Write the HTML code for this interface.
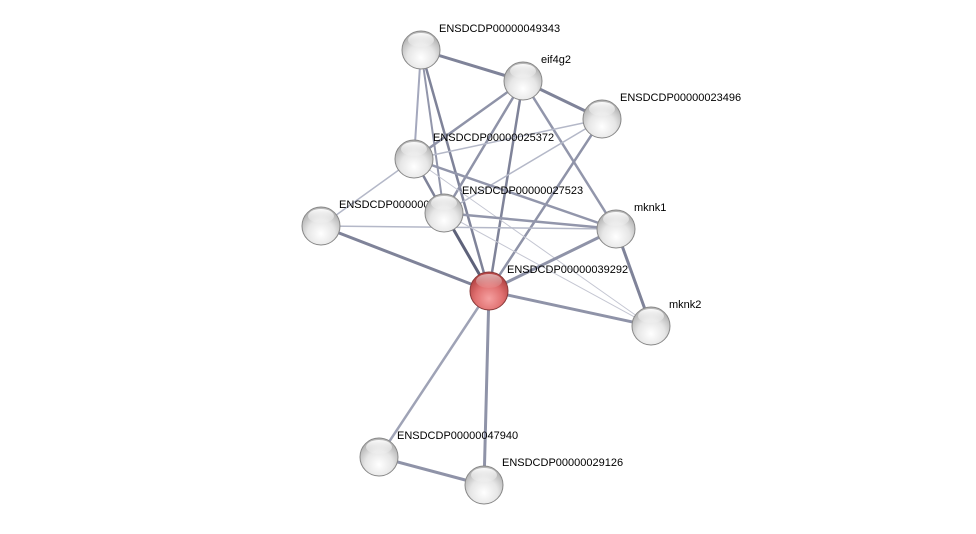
<!DOCTYPE html>
<html><head><meta charset="utf-8"><style>
body{margin:0;background:#fff;}
svg text{font-family:"Liberation Sans",sans-serif;font-size:11px;fill:#000;}
</style></head><body>
<svg width="976" height="529" viewBox="0 0 976 529">
<defs>
<radialGradient id="g" cx="50%" cy="70%" r="60%">
<stop offset="0" stop-color="#ffffff"/><stop offset="0.6" stop-color="#e6e6e6"/><stop offset="1" stop-color="#b8b8b8"/></radialGradient>
<radialGradient id="r" cx="50%" cy="70%" r="60%">
<stop offset="0" stop-color="#f5a0a0"/><stop offset="0.6" stop-color="#e07070"/><stop offset="1" stop-color="#b84848"/></radialGradient>
<linearGradient id="hl" x1="0" y1="0" x2="0" y2="1"><stop offset="0" stop-color="#fff" stop-opacity="0.95"/><stop offset="1" stop-color="#fff" stop-opacity="0.1"/></linearGradient>
</defs>
<g stroke-linecap="round">
<line x1="421" y1="50" x2="523" y2="81" stroke="#7f8399" stroke-width="3"/>
<line x1="421" y1="50" x2="414" y2="159" stroke="#a4a8bd" stroke-width="2"/>
<line x1="421" y1="50" x2="444" y2="213" stroke="#9296ab" stroke-width="2"/>
<line x1="421" y1="50" x2="489" y2="291" stroke="#7f8399" stroke-width="2.5"/>
<line x1="523" y1="81" x2="602" y2="119" stroke="#7f8399" stroke-width="3"/>
<line x1="523" y1="81" x2="414" y2="159" stroke="#8f93a8" stroke-width="2.5"/>
<line x1="523" y1="81" x2="444" y2="213" stroke="#8f93a8" stroke-width="2.5"/>
<line x1="523" y1="81" x2="489" y2="291" stroke="#7f8399" stroke-width="2.5"/>
<line x1="523" y1="81" x2="616" y2="229" stroke="#9296ab" stroke-width="2.5"/>
<line x1="602" y1="119" x2="414" y2="159" stroke="#b4b8c8" stroke-width="1.5"/>
<line x1="602" y1="119" x2="444" y2="213" stroke="#b4b8c8" stroke-width="1.5"/>
<line x1="602" y1="119" x2="489" y2="291" stroke="#8f93a8" stroke-width="2.5"/>
<line x1="414" y1="159" x2="321" y2="226" stroke="#b4b8c8" stroke-width="1.5"/>
<line x1="414" y1="159" x2="444" y2="213" stroke="#7f8399" stroke-width="2.5"/>
<line x1="414" y1="159" x2="616" y2="229" stroke="#9296ab" stroke-width="2.5"/>
<line x1="414" y1="159" x2="651" y2="326" stroke="#c4c6d2" stroke-width="1"/>
<line x1="321" y1="226" x2="616" y2="229" stroke="#b4b8c8" stroke-width="1.5"/>
<line x1="321" y1="226" x2="489" y2="291" stroke="#7f8399" stroke-width="3"/>
<line x1="444" y1="213" x2="616" y2="229" stroke="#9296ab" stroke-width="2.5"/>
<line x1="444" y1="213" x2="489" y2="291" stroke="#5e627a" stroke-width="3"/>
<line x1="444" y1="213" x2="651" y2="326" stroke="#c4c6d2" stroke-width="1"/>
<line x1="616" y1="229" x2="489" y2="291" stroke="#8f93a8" stroke-width="3"/>
<line x1="616" y1="229" x2="651" y2="326" stroke="#7f8399" stroke-width="3"/>
<line x1="489" y1="291" x2="651" y2="326" stroke="#8f93a8" stroke-width="3"/>
<line x1="489" y1="291" x2="379" y2="457" stroke="#9fa3b6" stroke-width="2.5"/>
<line x1="489" y1="291" x2="484" y2="485" stroke="#8f93a8" stroke-width="3"/>
<line x1="379" y1="457" x2="484" y2="485" stroke="#8f93a8" stroke-width="3"/>
</g>
<text x="339" y="208">ENSDCDP00000026301</text>
<g stroke="#888" stroke-width="1">
<circle cx="421" cy="50" r="19" fill="url(#g)"/>
<circle cx="523" cy="81" r="19" fill="url(#g)"/>
<circle cx="602" cy="119" r="19" fill="url(#g)"/>
<circle cx="414" cy="159" r="19" fill="url(#g)"/>
<circle cx="321" cy="226" r="19" fill="url(#g)"/>
<circle cx="444" cy="213" r="19" fill="url(#g)"/>
<circle cx="616" cy="229" r="19" fill="url(#g)"/>
<circle cx="489" cy="291" r="19" fill="url(#r)" stroke="#8a3a3a"/>
<circle cx="651" cy="326" r="19" fill="url(#g)"/>
<circle cx="379" cy="457" r="19" fill="url(#g)"/>
<circle cx="484" cy="485" r="19" fill="url(#g)"/>
</g>
<g fill="url(#hl)">
<ellipse cx="421" cy="40" rx="13" ry="7"/><ellipse cx="523" cy="71" rx="13" ry="7"/><ellipse cx="602" cy="109" rx="13" ry="7"/><ellipse cx="414" cy="149" rx="13" ry="7"/><ellipse cx="321" cy="216" rx="13" ry="7"/><ellipse cx="444" cy="203" rx="13" ry="7"/><ellipse cx="616" cy="219" rx="13" ry="7"/><ellipse cx="489" cy="281" rx="13" ry="7" opacity="0.6"/><ellipse cx="651" cy="316" rx="13" ry="7"/><ellipse cx="379" cy="447" rx="13" ry="7"/><ellipse cx="484" cy="475" rx="13" ry="7"/>
</g>
<text x="439" y="32">ENSDCDP00000049343</text>
<text x="541" y="63">eif4g2</text>
<text x="620" y="101">ENSDCDP00000023496</text>
<text x="433" y="141">ENSDCDP00000025372</text>
<text x="462" y="194">ENSDCDP00000027523</text>
<text x="634" y="211">mknk1</text>
<text x="507" y="273">ENSDCDP00000039292</text>
<text x="669" y="308">mknk2</text>
<text x="397" y="439">ENSDCDP00000047940</text>
<text x="502" y="466">ENSDCDP00000029126</text>
</svg>
</body></html>
